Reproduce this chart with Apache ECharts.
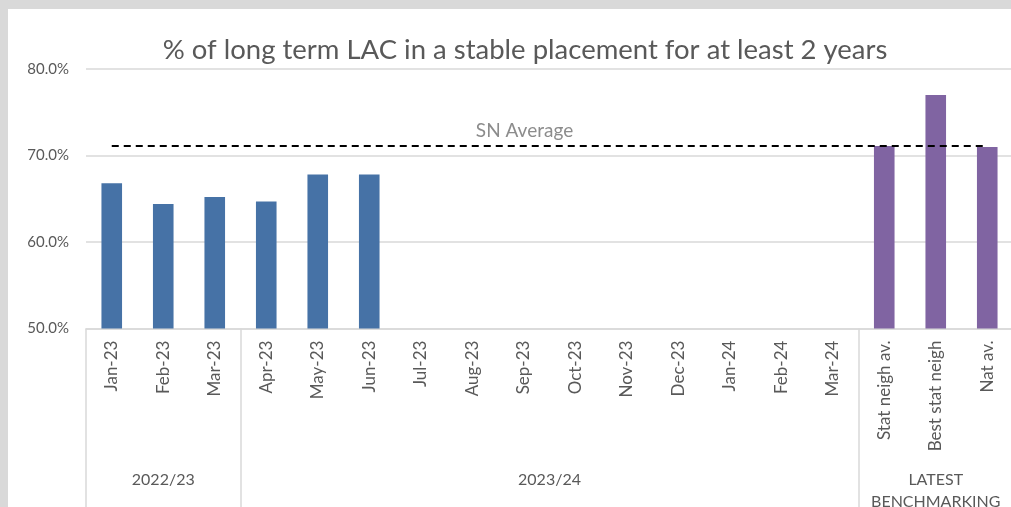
<!DOCTYPE html>
<html>
<head>
<meta charset="utf-8">
<script src="https://cdn.jsdelivr.net/npm/echarts@6/dist/echarts.min.js"></script>
<style>
  html, body { margin: 0; padding: 0; background: #d9d9d9; overflow: hidden; }
  #panel { position: absolute; left: 8px; top: 9px; width: 1200px; height: 600px; background: #fff; }
  #main { position: absolute; left: 0; top: 0; width: 1011px; height: 507px; }
</style>
</head>
<body>
<div id="panel"></div>
<div id="main"></div>
<script>
// categories on the axis
var months = ['Jan-23', 'Feb-23', 'Mar-23', 'Apr-23', 'May-23', 'Jun-23', 'Jul-23', 'Aug-23',
  'Sep-23', 'Oct-23', 'Nov-23', 'Dec-23', 'Jan-24', 'Feb-24', 'Mar-24']
var benchmarks = ['Stat neigh av.', 'Best stat neigh', 'Nat av.']
// values (%)
var monthValues = [66.8, 64.4, 65.2, 64.7, 67.8, 67.8, null, null, null, null, null, null, null, null, null]
var benchmarkValues = [71.1, 77.0, 71.0]
var snAverage = 71.15
// group labels under the axis and how many categories each one spans
var groups = ['2022/23', '2023/24', 'LATEST\nBENCHMARKING']
var groupSizes = [3, 12, 3]

var categories = months.concat(benchmarks)

var barData = []
monthValues.forEach(function(v) {
  barData.push({ value: v, itemStyle: { color: '#4672a6' } })
})
benchmarkValues.forEach(function(v) {
  barData.push({ value: v, itemStyle: { color: '#8064a2' } })
})

// group centers and boundaries in category units
var groupLabelAt = {}
var boundaries = [0]
var start = 0
groupSizes.forEach(function(n, i) {
  groupLabelAt[(start + n / 2).toFixed(1)] = groups[i]
  start += n
  boundaries.push(start)
})

var font = 'Lato, "Open Sans", sans-serif'
var myChart = echarts.init(document.getElementById('main'))
var option = {
  animation: false,
  title: {
    text: '% of long term LAC in a stable placement for at least 2 years',
    left: 520,
    textAlign: 'center',
    top: 31,
    textStyle: { fontFamily: font, fontSize: 27.5, fontWeight: 'normal', color: '#595959' }
  },
  grid: { left: 86, top: 69, width: 927, height: 259.6, containLabel: false, outerBoundsMode: 'none' },
  xAxis: [
    {
      type: 'category',
      data: categories,
      axisLine: { lineStyle: { color: '#d9d9d9', width: 1.5 } },
      axisTick: {
        show: true,
        length: 180,
        lineStyle: { color: '#d9d9d9', width: 1.5 },
        interval: function(index) { return boundaries.indexOf(index) >= 0 }
      },
      axisLabel: {
        interval: 0,
        rotate: 90,
        margin: 12,
        fontFamily: font,
        fontSize: 17,
        color: '#595959'
      }
    },
    {
      type: 'value',
      position: 'bottom',
      min: 0,
      max: 18,
      interval: 1.5,
      axisLine: { show: false },
      axisTick: { show: false },
      splitLine: { show: false },
      axisLabel: {
        margin: 140,
        fontFamily: font,
        fontSize: 16,
        lineHeight: 22,
        color: '#595959',
        showMinLabel: false,
        showMaxLabel: false,
        formatter: function(v) { return groupLabelAt[v.toFixed(1)] || '' }
      }
    }
  ],
  yAxis: {
    type: 'value',
    min: 50,
    max: 80,
    interval: 10,
    axisLine: { show: false },
    axisTick: { show: false },
    splitLine: { lineStyle: { color: '#d9d9d9', width: 1.5 } },
    axisLabel: {
      margin: 17,
      fontFamily: font,
      fontSize: 15,
      color: '#595959',
      formatter: function(v) { return v.toFixed(1) + '%' }
    }
  },
  series: [
    {
      type: 'bar',
      data: barData,
      barWidth: '40%',
      markLine: {
        silent: true,
        symbol: 'none',
        lineStyle: { color: '#000', type: [7, 5], width: 1.8 },
        label: {
          show: true,
          position: 'middle',
          formatter: 'SN Average',
          fontFamily: font,
          fontSize: 19,
          color: '#8c8c8c',
          offset: [-25, 0]
        },
        data: [[
          { coord: [0, snAverage] },
          { coord: [categories.length - 1, snAverage] }
        ]]
      }
    }
  ]
}
myChart.setOption(option)
</script>
</body>
</html>
